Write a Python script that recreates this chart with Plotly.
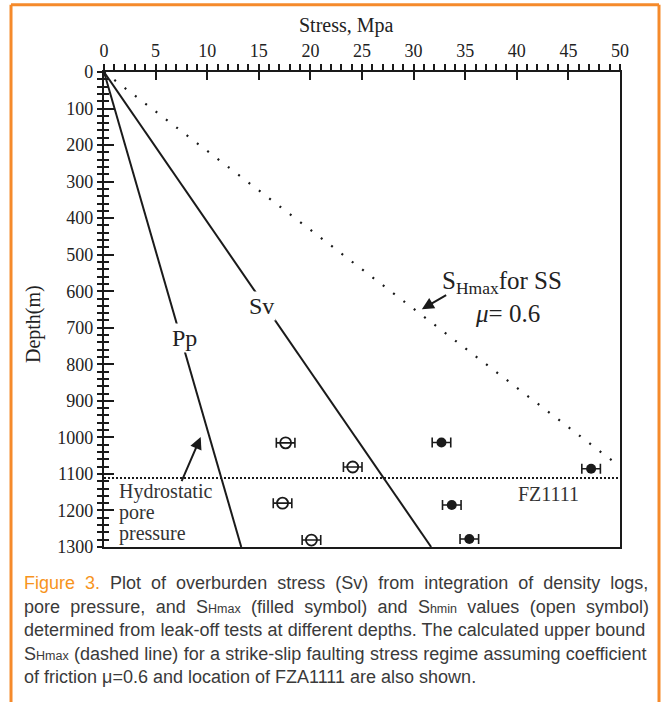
import plotly.graph_objects as go

# ---------------- data ----------------
depth_end = [0, 1300]
pp_stress = [0, 13.3]          # hydrostatic pore pressure, MPa
sv_stress = [0, 31.7]          # overburden stress, MPa
shmax_ss_stress = [0, 50]      # upper bound SHmax (strike-slip, mu=0.6)
shmax_ss_depth = [0, 1080]
fz_depth = 1111                # FZA1111 location
fz_stress = [0, 50]

shmin_stress = [17.6, 24.1, 17.3, 20.1]   # open symbols
shmin_depth = [1015, 1081, 1180, 1281]
shmax_stress = [32.7, 47.2, 33.7, 35.4]   # filled symbols
shmax_depth = [1014, 1086, 1185, 1278]
err_half = [0.9, 0.9, 0.9, 0.9]

x_ticks = [0, 5, 10, 15, 20, 25, 30, 35, 40, 45, 50]
y_ticks = [0, 100, 200, 300, 400, 500, 600, 700, 800, 900, 1000, 1100, 1200, 1300]

SMALL = "<span style='font-size:12.5px'>{}</span>"
caption_lines = [
    "<span style='color:#F7941D'>Figure 3.</span> Plot of overburden stress (Sv) from integration of density logs,",
    "pore pressure, and S" + SMALL.format("Hmax") + " (filled symbol) and S" + SMALL.format("hmin")
    + " values (open symbol)",
    "determined from leak-off tests at different depths. The calculated upper bound",
    "S" + SMALL.format("Hmax") + " (dashed line) for a strike-slip faulting stress regime assuming coefficient",
    "of friction \u03bc=0.6 and location of FZA1111 are also shown.",
]
caption_word_spacing = [5.0, 5.3, 0.2, 0.3, 0]

# ---------------- figure ----------------
INK = "#1a1a1a"
SERIF = "Liberation Serif, Times New Roman, serif"
SANS = "Liberation Sans Narrow, Liberation Sans, Arial, sans-serif"

fig = go.Figure()

fig.add_trace(go.Scatter(x=pp_stress, y=depth_end, mode="lines",
                         line=dict(color=INK, width=2), hoverinfo="skip"))
fig.add_trace(go.Scatter(x=sv_stress, y=depth_end, mode="lines",
                         line=dict(color=INK, width=2), hoverinfo="skip"))
fig.add_trace(go.Scatter(x=shmax_ss_stress, y=shmax_ss_depth, mode="lines",
                         line=dict(color=INK, width=2.2, dash="2px,11px"), hoverinfo="skip"))
fig.add_trace(go.Scatter(x=fz_stress, y=[fz_depth, fz_depth], mode="lines",
                         line=dict(color=INK, width=2, dash="2px,2px"), hoverinfo="skip"))

fig.add_trace(go.Scatter(
    x=shmin_stress, y=shmin_depth, mode="markers",
    marker=dict(symbol="circle-open", size=11, color=INK, line=dict(width=1.8)),
    error_x=dict(type="data", array=err_half, color=INK, thickness=1.6, width=5),
))
fig.add_trace(go.Scatter(
    x=shmax_stress, y=shmax_depth, mode="markers",
    marker=dict(symbol="circle", size=10, color=INK),
    error_x=dict(type="data", array=err_half, color=INK, thickness=1.6, width=5),
))

# invisible trace on overlay axes (for the crossing tick marks)
fig.add_trace(go.Scatter(x=[0], y=[0], xaxis="x2", yaxis="y2", mode="markers",
                         marker=dict(opacity=0), hoverinfo="skip"))

tickfont = dict(family=SERIF, size=18, color="#222")

fig.update_layout(
    width=662, height=702,
    margin=dict(l=104, r=42, t=72, b=155),
    paper_bgcolor="white", plot_bgcolor="white",
    showlegend=False,
    xaxis=dict(range=[0, 50], side="top", tickvals=x_ticks, ticks="outside", ticklen=6,
               tickwidth=2, tickcolor=INK, showline=True, linewidth=2.2, linecolor=INK,
               mirror=True, showgrid=False, zeroline=False, tickfont=tickfont,
               minor=dict(dtick=1, ticks="outside", ticklen=6, tickwidth=1.6, tickcolor=INK)),
    yaxis=dict(range=[1300, 0], tickvals=y_ticks, ticks="outside", ticklen=5,
               tickwidth=2, tickcolor=INK, showline=True, linewidth=2.2, linecolor=INK,
               mirror=True, showgrid=False, zeroline=False, tickfont=tickfont,
               minor=dict(dtick=20, ticks="outside", ticklen=5, tickwidth=1.6, tickcolor=INK)),
    xaxis2=dict(range=[0, 50], overlaying="x", side="top", tickvals=x_ticks, ticks="inside",
                ticklen=8, tickwidth=2, tickcolor=INK, showticklabels=False, showline=False,
                showgrid=False, zeroline=False),
    yaxis2=dict(range=[1300, 0], overlaying="y", side="left", tickvals=y_ticks, ticks="inside",
                ticklen=10, tickwidth=2, tickcolor=INK, showticklabels=False, showline=False,
                showgrid=False, zeroline=False,
                minor=dict(dtick=20, ticks="inside", ticklen=5, tickwidth=1.6, tickcolor=INK)),
)

ann = []
# axis titles
ann.append(dict(xref="paper", yref="paper", x=0.469, y=1.0985, xanchor="center", yanchor="middle",
                text="Stress, Mpa", showarrow=False,
                font=dict(family=SERIF, size=20, color="#222")))
ann.append(dict(xref="paper", yref="paper", x=-0.137, y=0.47, xanchor="center", yanchor="middle",
                text="Depth(m)", textangle=-90, showarrow=False,
                font=dict(family=SERIF, size=20, color="#222")))

# curve labels (white background breaks the line)
ann.append(dict(x=7.8, y=728, text="Pp", showarrow=False, bgcolor="white",
                xanchor="center", yanchor="middle",
                font=dict(family=SERIF, size=24, color="#222")))
ann.append(dict(x=15.3, y=640, text="Sv", showarrow=False, bgcolor="white",
                xanchor="center", yanchor="middle",
                font=dict(family=SERIF, size=24, color="#222")))
ann.append(dict(x=32.6, y=577, text="S<sub>Hmax</sub>for SS", showarrow=False,
                xanchor="left", yanchor="middle",
                font=dict(family=SERIF, size=25, color="#222")))
ann.append(dict(x=39.1, y=660, text="<i>\u03bc</i>= 0.6", showarrow=False,
                xanchor="center", yanchor="middle",
                font=dict(family=SERIF, size=25, color="#222")))
ann.append(dict(x=43.1, y=1155, text="FZ1111", showarrow=False,
                xanchor="center", yanchor="middle",
                font=dict(family=SERIF, size=20, color="#333")))
for txt, d in zip(["Hydrostatic", "pore", "pressure"], [1149, 1206, 1262]):
    ann.append(dict(x=1.3, y=d, text=txt, showarrow=False, xanchor="left", yanchor="middle",
                    font=dict(family=SERIF, size=20, color="#333")))

# arrows
ann.append(dict(x=9.37, y=999, ax=7.46, ay=1124, axref="x", ayref="y", text="",
                showarrow=True, arrowhead=2, arrowsize=1.2, arrowwidth=2, arrowcolor=INK))
ann.append(dict(x=30.8, y=649, ax=33.3, ay=608, axref="x", ayref="y", text="",
                showarrow=True, arrowhead=2, arrowsize=1.2, arrowwidth=2, arrowcolor=INK))

# caption
y0 = -0.076
for i, (line, ws) in enumerate(zip(caption_lines, caption_word_spacing)):
    txt = "<span style='word-spacing:%.1fpx'>%s</span>" % (ws, line) if ws else line
    ann.append(dict(xref="paper", yref="paper", x=-0.159, y=y0 - i * 0.0495, xanchor="left",
                    yanchor="middle", text=txt, showarrow=False, align="left",
                    font=dict(family=SANS, size=18, color="#3a3a3a")))

fig.update_layout(annotations=ann)

# orange frame (left, top, right)
ORANGE = "#F58A2B"
fig.add_shape(type="line", xref="paper", yref="paper", x0=-0.1802, x1=-0.1802, y0=-0.34, y1=1.1415,
              line=dict(color=ORANGE, width=3))
fig.add_shape(type="line", xref="paper", yref="paper", x0=-0.1802, x1=1.0756, y0=1.1415, y1=1.1415,
              line=dict(color=ORANGE, width=3))
fig.add_shape(type="line", xref="paper", yref="paper", x0=1.0756, x1=1.0756, y0=-0.34, y1=1.1415,
              line=dict(color=ORANGE, width=3))

fig.write_html("out.html", config={"displayModeBar": False},
               post_script="document.body.style.margin='0px';")
